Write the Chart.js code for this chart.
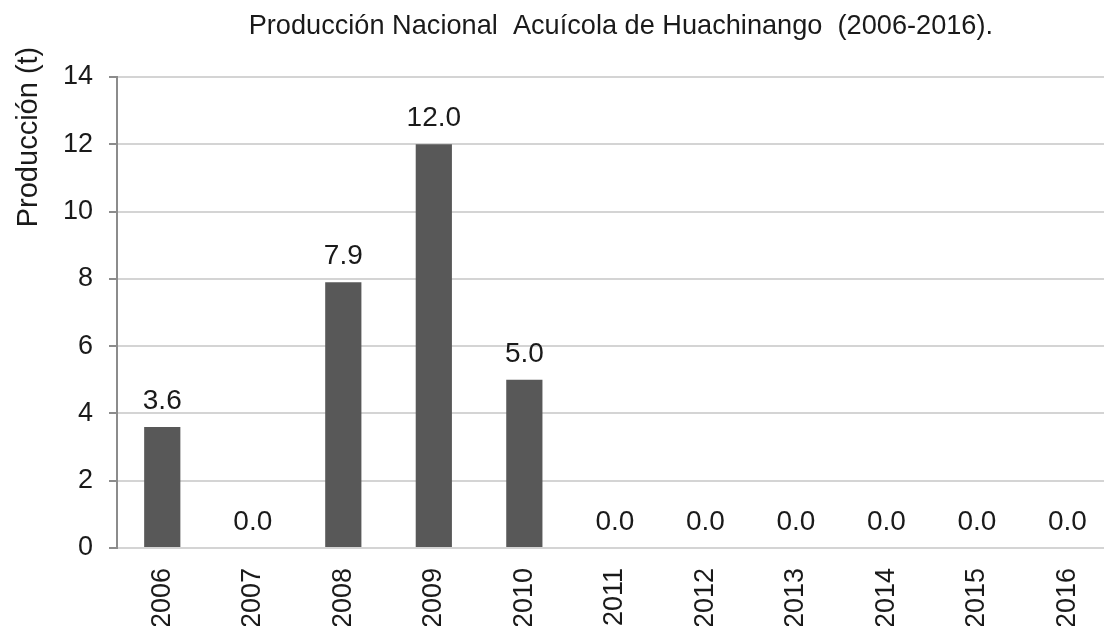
<!DOCTYPE html>
<html lang="es">
<head>
<meta charset="utf-8">
<title>Producción Nacional Acuícola de Huachinango (2006-2016)</title>
<script src="https://cdn.jsdelivr.net/npm/chart.js@4/dist/chart.umd.min.js"></script>
<style>
  html, body { margin: 0; padding: 0; background: #ffffff; overflow: hidden; }
  #wrap { position: relative; width: 1120px; height: 626px; }
</style>
</head>
<body>
<div id="wrap"><canvas id="chart"></canvas></div>
<script>
// Producción anual (toneladas) por año
const years = ['2006', '2007', '2008', '2009', '2010', '2011', '2012', '2013', '2014', '2015', '2016'];
const production = [3.6, 0.0, 7.9, 12.0, 5.0, 0.0, 0.0, 0.0, 0.0, 0.0, 0.0];
const yTicks = [0, 2, 4, 6, 8, 10, 12, 14];
const chartTitle = 'Producción Nacional  Acuícola de Huachinango  (2006-2016).';
const yAxisTitle = 'Producción (t)';

const FONT = '"Liberation Sans", Arial, sans-serif';
const TEXT = '#1a1a1a';

// Value labels above each bar
const barValueLabels = {
  id: 'barValueLabels',
  afterDatasetsDraw(chart) {
    const ctx = chart.ctx;
    const meta = chart.getDatasetMeta(0);
    ctx.save();
    ctx.font = '28px ' + FONT;
    ctx.fillStyle = TEXT;
    ctx.textAlign = 'center';
    ctx.textBaseline = 'alphabetic';
    meta.data.forEach((bar, i) => {
      ctx.fillText(production[i].toFixed(1), bar.x, bar.y - 18);
    });
    ctx.restore();
  }
};

// Chart title over the plot area and the vertical axis title
const chartTexts = {
  id: 'chartTexts',
  afterDraw(chart) {
    const ctx = chart.ctx;
    const a = chart.chartArea;
    ctx.save();
    ctx.fillStyle = TEXT;
    ctx.textAlign = 'center';
    ctx.textBaseline = 'alphabetic';

    ctx.save();
    ctx.font = '28px ' + FONT;
    ctx.translate((a.left + a.right) / 2 + 6, 34);
    ctx.scale(0.97, 1);
    ctx.fillText(chartTitle, 0, 0);
    ctx.restore();

    ctx.save();
    ctx.font = '29px ' + FONT;
    ctx.translate(37, a.top + 60);
    ctx.rotate(-Math.PI / 2);
    ctx.fillText(yAxisTitle, 0, 0);
    ctx.restore();

    ctx.restore();
  }
};

new Chart(document.getElementById('chart'), {
  type: 'bar',
  data: {
    labels: years,
    datasets: [{
      data: production,
      backgroundColor: '#585858',
      borderWidth: 0,
      categoryPercentage: 1.0,
      barPercentage: 0.4
    }]
  },
  options: {
    responsive: true,
    maintainAspectRatio: false,
    animation: false,
    devicePixelRatio: 1,
    layout: { padding: { top: 77, right: 3, left: 0, bottom: 0 } },
    plugins: {
      legend: { display: false },
      tooltip: { enabled: false },
      title: { display: false }
    },
    scales: {
      x: {
        afterFit(scale) { scale.height = 78; },
        grid: { display: false, drawTicks: false },
        border: { display: true, color: '#d4d4d4', width: 2 },
        ticks: {
          color: TEXT,
          font: { family: FONT, size: 27 },
          minRotation: 90,
          maxRotation: 90,
          padding: 20,
          autoSkip: false
        }
      },
      y: {
        min: 0,
        max: 14,
        afterBuildTicks(scale) {
          scale.ticks = yTicks.map(v => ({ value: v }));
        },
        afterFit(scale) { scale.width = 117; },
        grid: {
          color: '#d4d4d4',
          lineWidth: 2,
          drawTicks: true,
          tickLength: 8,
          tickColor: '#8c8c8c',
          tickWidth: 2
        },
        border: { display: true, color: '#8c8c8c', width: 2 },
        ticks: {
          color: TEXT,
          font: { family: FONT, size: 27 },
          padding: 16
        },
        title: { display: false }
      }
    }
  },
  plugins: [barValueLabels, chartTexts]
});
</script>
</body>
</html>
